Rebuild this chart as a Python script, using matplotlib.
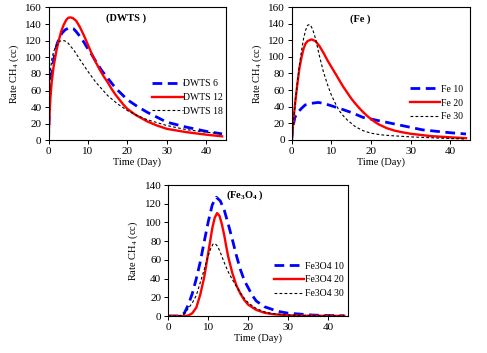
import matplotlib
matplotlib.use("Agg")
from matplotlib import pyplot as plt

plt.rcParams['font.family'] = ['Liberation Serif', 'DejaVu Serif']
plt.rcParams['mathtext.fontset'] = 'custom'
plt.rcParams['mathtext.rm'] = 'Liberation Serif'
plt.rcParams['mathtext.default'] = 'regular'

# ---- DWTS panel ----
dwts6_t = [0, 0.2, 0.44, 0.8, 1.3, 2.1, 2.7, 3.4, 4.2, 5, 5.6, 6.3, 7, 8, 9, 10, 11, 12, 13.5,
           15, 17, 20, 22.5, 25, 27.5, 30, 35, 40, 44]
dwts6_v = [0, 35, 60, 80, 97, 115, 123, 129, 133, 135, 135.5, 134.5, 131, 125, 118, 110,
           103, 95, 84, 75, 63, 49, 41, 34, 28, 22, 16, 11, 8]
dwts12_t = [0, 0.2, 0.44, 0.8, 1.3, 2, 2.6, 3.2, 3.85, 4.5, 5, 5.6, 6.2, 7, 8, 9, 10, 11,
            12, 13, 14, 15, 16, 17, 18, 19, 20, 22, 25, 27.5, 30, 35, 40, 44]
dwts12_v = [0, 25, 48.5, 70, 89, 108, 120, 131, 139, 145, 147.5, 148, 147, 144, 136, 126,
            115, 104, 94, 85, 77, 70, 62, 55, 49, 43, 38, 31, 23, 18, 14, 10, 7, 5]
dwts18_t = [0, 0.2, 0.44, 0.8, 1.3, 2, 2.6, 3.2, 4, 4.8, 5.5, 6.5, 8, 10, 12, 15, 17.5,
            20, 22.5, 25, 30, 35, 40, 44]
dwts18_v = [0, 50, 81, 97, 107, 114, 118.5, 120, 120, 118, 114, 108, 97, 83, 70, 54, 44,
            36, 30, 25, 18, 13, 10, 8]

# ---- Fe panel ----
fe10_t = [0, 0.3, 0.8, 1.7, 2.5, 3.4, 5, 6.7, 8, 10, 12, 15, 18, 20, 23, 27, 30, 33, 36,
          40, 44]
fe10_v = [0, 15, 27, 34, 38, 42, 44, 45, 44, 41, 38, 33, 27, 25, 22, 18, 15, 12, 10.5,
          8.5, 7]
fe20_t = [0, 0.5, 1, 1.5, 2, 2.5, 3, 3.5, 4, 5, 6, 7, 8, 9, 10, 11, 12, 13, 14, 15, 16,
          17, 18, 19, 20, 21, 22, 24, 26, 28, 30, 35, 40, 44]
fe20_v = [0, 27, 50, 70, 88, 100, 110, 116, 119, 121, 119, 113, 105, 96, 88, 80, 72, 64,
          57, 50, 44, 38.5, 33.5, 29, 25, 21.5, 18.5, 14, 11, 9, 7.3, 4.5, 3, 2]
fe30_t = [0, 0.5, 1, 1.5, 2, 2.5, 3, 3.5, 4, 4.5, 5, 5.5, 6, 7, 8, 9, 10, 11, 12, 13, 14,
          16, 18, 20, 22.5, 25, 30, 35, 40, 44]
fe30_v = [0, 25, 50, 72, 92, 108, 122, 132, 138, 139, 136, 130, 122, 101, 82, 67, 54, 44,
          35, 29, 24, 16, 11, 8, 6, 5, 3.5, 2.5, 1.5, 1]

# ---- Fe3O4 panel ----
fo10_t = [0, 2, 3, 4, 5, 6, 7, 8, 9, 10, 11, 12, 13, 14, 15, 16, 17, 18, 19, 20, 21, 22,
          24, 26, 28, 30, 33, 36, 40, 44]
fo10_v = [0, 0, 0.5, 3, 12, 24, 40, 58, 80, 101, 119, 127, 123, 113, 98, 82, 65, 50, 38,
          30, 22, 16, 10, 7, 4.5, 3, 2, 1, 0.5, 0.3]
fo20_t = [0, 4, 5, 6, 7, 8, 9, 10, 11, 11.6, 12.2, 12.8, 13.4, 14, 14.5, 15, 16, 17, 18,
          19, 20, 22, 24, 26, 30, 35, 44]
fo20_v = [0, 0, 0.5, 3, 9, 23, 42, 68, 94, 105, 110, 107, 98, 86, 74, 63, 46, 33, 24, 17,
          12, 6.5, 3.5, 2, 0.7, 0.3, 0.1]
fo30_t = [0, 2, 3, 4, 5, 6, 7, 8, 9, 10, 10.6, 11.2, 11.8, 12.4, 13, 14, 15, 16, 17, 18,
          19, 20, 22, 24, 26, 30, 35, 44]
fo30_v = [0, 0, 0.5, 2.5, 8, 14, 22, 36, 50, 65, 72, 77, 77, 74, 68, 57, 47, 39, 32, 25,
          19, 14, 8, 4.5, 2.5, 1, 0.4, 0.1]

fig = plt.figure(figsize=(4.87, 3.53), dpi=100)
ax1 = fig.add_axes([0.0996, 0.602, 0.3645, 0.377])
ax2 = fig.add_axes([0.599, 0.604, 0.366, 0.376])
ax3 = fig.add_axes([0.3456, 0.1048, 0.3696, 0.371])

blue = dict(color='#0000ff', lw=2.0, dashes=(3.5, 2))
red = dict(color='#ff0000', lw=1.7)
black = dict(color='black', lw=0.8, dashes=(2.5, 2))

ax1.plot(dwts6_t, dwts6_v, label='DWTS 6', **blue)
ax1.plot(dwts12_t, dwts12_v, label='DWTS 12', **red)
ax1.plot(dwts18_t, dwts18_v, label='DWTS 18', **black)

ax2.plot(fe10_t, fe10_v, label='Fe 10', **blue)
ax2.plot(fe20_t, fe20_v, label='Fe 20', **red)
ax2.plot(fe30_t, fe30_v, label='Fe 30', **black)

ax3.plot(fo10_t, fo10_v, label='Fe3O4 10', **blue)
ax3.plot(fo20_t, fo20_v, label='Fe3O4 20', **red)
ax3.plot(fo30_t, fo30_v, label='Fe3O4 30', **black)

panels = [(ax1, 160, '(DWTS )', 0.437, 0.919, 0.985, 0.323),
          (ax2, 160, '(Fe )', 0.386, 0.912, 0.96, 0.277),
          (ax3, 140, '(Fe$_3$O$_4$ )', 0.426, 0.924, 0.975, 0.275)]

for ax, ymax, title, tx, ty, lx, ly in panels:
    ax.set_xlim(0, 45)
    ax.set_ylim(0, ymax)
    ax.set_xticks([0, 10, 20, 30, 40])
    ax.set_yticks(range(0, ymax + 1, 20))
    ax.tick_params(direction='out', length=3, width=0.7, labelsize=8, pad=2)
    for s in ax.spines.values():
        s.set_linewidth(0.8)
    ax.set_xlabel('Time (Day)', fontsize=7.5, labelpad=1)
    ax.set_ylabel('Rate CH$_4$ (cc)', fontsize=7.5, labelpad=3)
    ax.text(tx, ty, title, transform=ax.transAxes, ha='center', va='center',
            fontsize=7.5, fontweight='bold')
    ax.legend(loc='center right', bbox_to_anchor=(lx, ly), frameon=False,
              fontsize=7, handlelength=3.1, handletextpad=0.1,
              labelspacing=0.5, borderpad=0, borderaxespad=0)

fig.savefig('out.png', dpi=100)
